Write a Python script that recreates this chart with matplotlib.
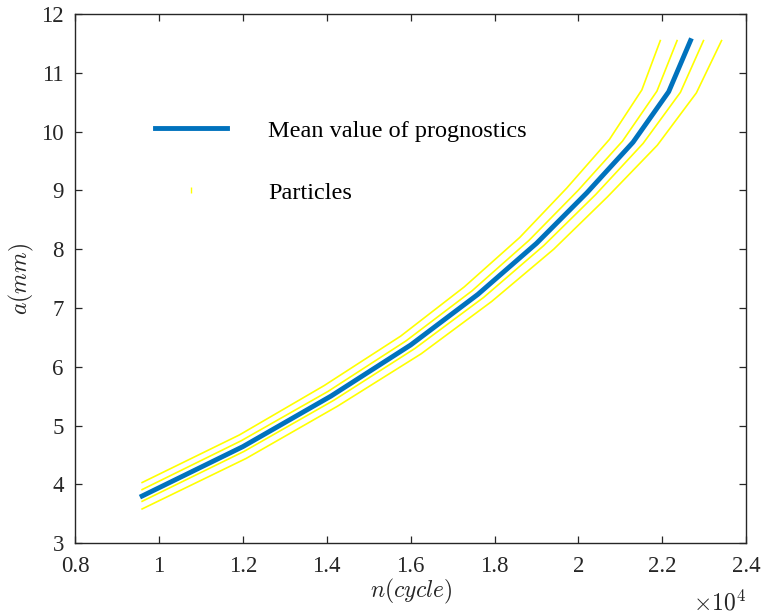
import matplotlib
matplotlib.use("Agg")
import matplotlib.pyplot as plt
from matplotlib.lines import Line2D
from matplotlib.ticker import FuncFormatter, MultipleLocator

plt.rcParams['font.family'] = 'serif'
plt.rcParams['font.serif'] = ['Liberation Serif', 'DejaVu Serif']
plt.rcParams['mathtext.fontset'] = 'cm'

# crack length a (mm) versus load cycles n
mean_n = [9600, 12000, 14100, 16000, 17600, 19000, 20200, 21300, 22150, 22670]
mean_a = [3.80, 4.64, 5.50, 6.37, 7.23, 8.10, 8.96, 9.82, 10.68, 11.55]

# individual particle trajectories
p1_n = [9600, 11920, 13940, 15760, 17280, 18600, 19720, 20740, 21510, 21950]
p1_a = [4.03, 4.84, 5.68, 6.52, 7.36, 8.20, 9.04, 9.87, 10.71, 11.55]
p2_n = [9600, 11960, 14030, 15890, 17460, 18820, 19990, 21050, 21870, 22350]
p2_a = [3.91, 4.74, 5.58, 6.44, 7.29, 8.15, 9.00, 9.84, 10.69, 11.55]
p3_n = [9600, 12030, 14170, 16100, 17740, 19170, 20410, 21540, 22430, 22980]
p3_a = [3.71, 4.56, 5.43, 6.31, 7.18, 8.06, 8.93, 9.80, 10.67, 11.55]
p4_n = [9600, 12080, 14260, 16250, 17930, 19410, 20690, 21880, 22810, 23410]
p4_a = [3.58, 4.44, 5.33, 6.22, 7.11, 8.00, 8.89, 9.77, 10.66, 11.55]

particles = [(p1_n, p1_a), (p2_n, p2_a), (p3_n, p3_a), (p4_n, p4_a)]

fig = plt.figure(figsize=(7.62, 6.15), dpi=100)
ax = fig.add_axes([0.0984, 0.117, 0.881, 0.860])

blue = (0, 0.447, 0.741)
dark = '#262626'
for pn, pa in particles:
    ax.plot(pn, pa, color=(1, 1, 0), lw=1.2)
ax.plot(mean_n, mean_a, color=blue, lw=3.5)

ax.set_xlim(8000, 24000)
ax.set_ylim(3, 12)
ax.xaxis.set_major_locator(MultipleLocator(2000))
ax.yaxis.set_major_locator(MultipleLocator(1))
ax.xaxis.set_major_formatter(FuncFormatter(lambda v, pos: f"{v / 1e4:g}"))
ax.tick_params(direction='in', top=True, right=True, length=5, width=0.9,
               labelsize=16.5, colors=dark)
ax.tick_params(axis='x', pad=9)
ax.tick_params(axis='y', pad=8)
for s in ax.spines.values():
    s.set_color(dark)
    s.set_linewidth(1.0)

ax.set_xlabel(r'$n(cycle)$', fontsize=17, color=dark, labelpad=0)
ax.set_ylabel(r'$a(mm)$', fontsize=17, color=dark, labelpad=4)
ax.text(1.0, -0.09, r'$\times10^{4}$', transform=ax.transAxes, ha='right',
        va='top', fontsize=17, color=dark)

handles = [
    Line2D([], [], color=blue, lw=3.5),
    Line2D([], [], color=(1, 1, 0), marker='|', markersize=4,
           linestyle='none', markeredgewidth=1),
]
ax.legend(handles, ['Mean value of prognostics', 'Particles'],
          loc='upper left', bbox_to_anchor=(0.086, 0.842), frameon=False,
          fontsize=17.5, handlelength=2.96, handletextpad=1.7,
          labelspacing=1.65, numpoints=1)

fig.savefig('out.png', dpi=100)
